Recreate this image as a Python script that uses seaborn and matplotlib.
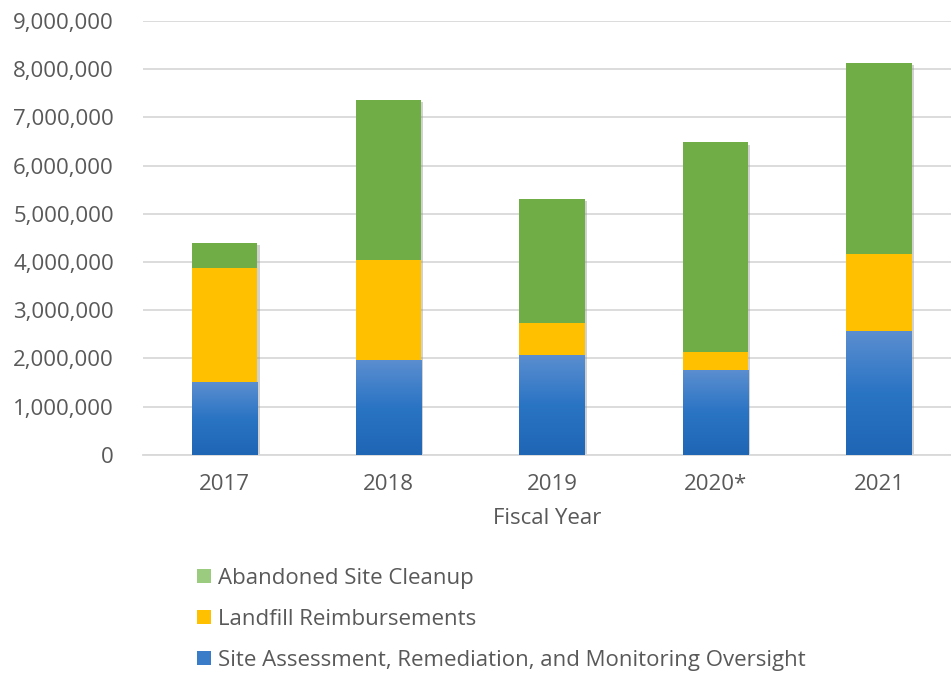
import numpy as np
import pandas as pd
import matplotlib
matplotlib.use("Agg")
import matplotlib.pyplot as plt
import matplotlib.patheffects as pe
from matplotlib.colors import LinearSegmentedColormap
from matplotlib.patches import Patch
from matplotlib.ticker import FuncFormatter
import seaborn as sns

years = ["2017", "2018", "2019", "2020*", "2021"]
site_assessment = [1500000, 1970000, 2070000, 1760000, 2570000]
landfill = [2370000, 2070000, 660000, 380000, 1590000]
abandoned = [520000, 3320000, 2570000, 4340000, 3960000]
series_names = ["Abandoned Site Cleanup", "Landfill Reimbursements",
                "Site Assessment, Remediation, and Monitoring Oversight"]
yticks = list(range(0, 9000001, 1000000))

sns.set_theme(style="white")
plt.rcParams['font.family'] = ['Open Sans', 'DejaVu Sans']
text_color = "#595959"
fs = 16

df = pd.DataFrame({"year": years, "blue": site_assessment,
                   "orange": landfill, "green": abandoned})
df["lvl2"] = df["blue"] + df["orange"]
df["lvl3"] = df["lvl2"] + df["green"]

fig = plt.figure(figsize=(9.51, 6.73), dpi=100)
ax = fig.add_axes([143/951, (673-454.7)/673, 1 - 143/951, (454.7-21)/673])

width = 0.40
shadow = [pe.SimplePatchShadow(offset=(1.5, -1.5), shadow_rgbFace="#999999", alpha=0.45), pe.Normal()]
sns.barplot(data=df, x="year", y="lvl3", color="#70AD47", width=width, saturation=1,
            ax=ax, linewidth=0, zorder=2)
for p in ax.patches:
    p.set_path_effects(shadow)
sns.barplot(data=df, x="year", y="lvl2", color="#FFC000", width=width, saturation=1,
            ax=ax, linewidth=0, zorder=3)
n1 = len(ax.patches)
sns.barplot(data=df, x="year", y="blue", color="#2E75C0", width=width, saturation=1,
            ax=ax, linewidth=0, zorder=4)
blue_patches = ax.patches[n1:]

cmap = LinearSegmentedColormap.from_list("bl", ["#1F66B5", "#2A74C4", "#5B8ED0"])
grad = np.linspace(0, 1, 256).reshape(-1, 1)
for p in blue_patches:
    x0, y0 = p.get_x(), p.get_y()
    w, h = p.get_width(), p.get_height()
    im = ax.imshow(grad, cmap=cmap, origin="lower", aspect="auto",
                   extent=(x0, x0 + w, y0, y0 + h), zorder=5)
    im.set_clip_path(p)

ax.set_xlim(-0.5, 4.44)
ax.set_ylim(0, 9000000)
ax.set_yticks(yticks)
ax.yaxis.set_major_formatter(FuncFormatter(lambda v, _: f"{int(v):,}"))
ax.grid(axis="y", color="#D9D9D9", linewidth=1.3, zorder=0)
ax.set_axisbelow(True)
for s in ["top", "right", "left"]:
    ax.spines[s].set_visible(False)
ax.spines["bottom"].set_color("#D9D9D9")
ax.spines["bottom"].set_linewidth(1.3)
ax.tick_params(axis="both", length=0, labelsize=fs, colors=text_color)
ax.tick_params(axis="y", pad=21)
ax.tick_params(axis="x", pad=14)
ax.set_ylabel("")
ax.set_xlabel("Fiscal Year", fontsize=fs, color=text_color, labelpad=9)

handles = [Patch(facecolor="#9ACB7E", edgecolor="none"),
           Patch(facecolor="#FFC000", edgecolor="none"),
           Patch(facecolor="#3A7CC8", edgecolor="none")]
fig.legend(handles, series_names, loc="upper left", bbox_to_anchor=(190/951, 1 - 561/673),
           frameon=False, fontsize=fs, labelcolor=text_color, handlelength=0.63,
           handleheight=0.63, handletextpad=0.35, labelspacing=0.9,
           borderaxespad=0, borderpad=0.3)

fig.savefig("out.png", dpi=100)
